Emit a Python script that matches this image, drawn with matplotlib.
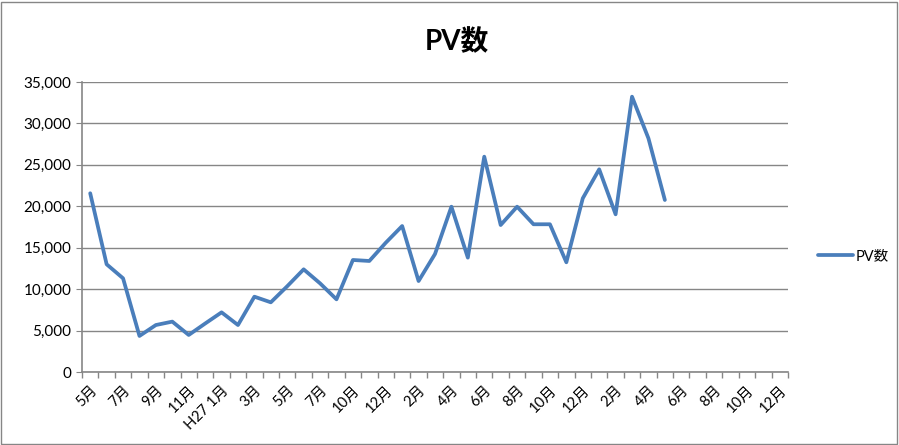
import matplotlib.pyplot as plt
from matplotlib.patches import Rectangle
from matplotlib.ticker import FuncFormatter

plt.rcParams['font.family'] = ['Lato', 'Noto Sans CJK JP', 'DejaVu Sans']

# 月ラベル（H26年5月〜）
months = ["5月", "6月", "7月", "8月", "9月", "10月", "11月", "12月",
          "H27 1月", "2月", "3月", "4月", "5月", "6月", "7月", "8月",
          "10月", "11月", "12月", "1月", "2月", "3月", "4月", "5月",
          "6月", "7月", "8月", "9月", "10月", "11月", "12月", "1月",
          "2月", "3月", "4月", "5月", "6月", "7月", "8月", "9月",
          "10月", "11月", "12月"]

# PV数（データのある月のみ）
pv = [21570, 13000, 11310, 4350, 5670, 6080, 4470, 5850,
      7200, 5670, 9090, 8410, 10350, 12390, 10700, 8770,
      13520, 13400, 15600, 17620, 10980, 14240, 19950, 13800,
      25990, 17740, 19950, 17830, 17830, 13240, 20960, 24460,
      19030, 33230, 28200, 20760]

line_color = "#4A7EBB"
grid_color = "#868686"

fig = plt.figure(figsize=(8.99, 4.45), dpi=100)
ax = fig.add_axes([82 / 899, 1 - 372 / 445, 706 / 899, 290 / 445])

ax.plot(range(len(pv)), pv, color=line_color, linewidth=2.7,
        solid_joinstyle="round", solid_capstyle="round", label="PV数")

ax.set_xlim(-0.5, len(months) - 0.5)
ax.set_ylim(0, 35000)
ax.set_yticks(range(0, 35001, 5000))
ax.yaxis.set_major_formatter(FuncFormatter(lambda v, p: f"{int(v):,}"))
ax.grid(axis="y", color=grid_color, linewidth=1)
ax.set_axisbelow(True)

# x軸：区切りの目盛りとラベル（1ヶ月おき）
ax.set_xticks([i - 0.5 for i in range(len(months) + 1)], minor=True)
ax.set_xticks(range(0, len(months), 2))
ax.set_xticklabels(months[::2], rotation=45, ha="right",
                   rotation_mode="anchor", fontsize=10.5)
ax.tick_params(axis="x", which="major", length=0, pad=8)
ax.tick_params(axis="x", which="minor", length=4, color=grid_color, width=1)
ax.tick_params(axis="y", length=4, color=grid_color, labelsize=11)

for side in ["top", "right"]:
    ax.spines[side].set_visible(False)
for side in ["left", "bottom"]:
    ax.spines[side].set_color(grid_color)
    ax.spines[side].set_linewidth(1.2)

fig.text(457 / 899, 1 - 42 / 445, "PV数", ha="center", va="center",
         fontsize=20, fontweight="bold")

ax.legend(loc="center left", bbox_to_anchor=((818 - 82) / 706, (372 - 256) / 290),
          frameon=False, fontsize=10.5, handlelength=2.4, handletextpad=0.2,
          borderaxespad=0, borderpad=0)

fig.patches.append(Rectangle((1 / 899, 1 / 445), 896 / 899, 442 / 445,
                             transform=fig.transFigure, fill=False,
                             edgecolor="#868686", linewidth=1))

fig.savefig("out.png", dpi=100)
